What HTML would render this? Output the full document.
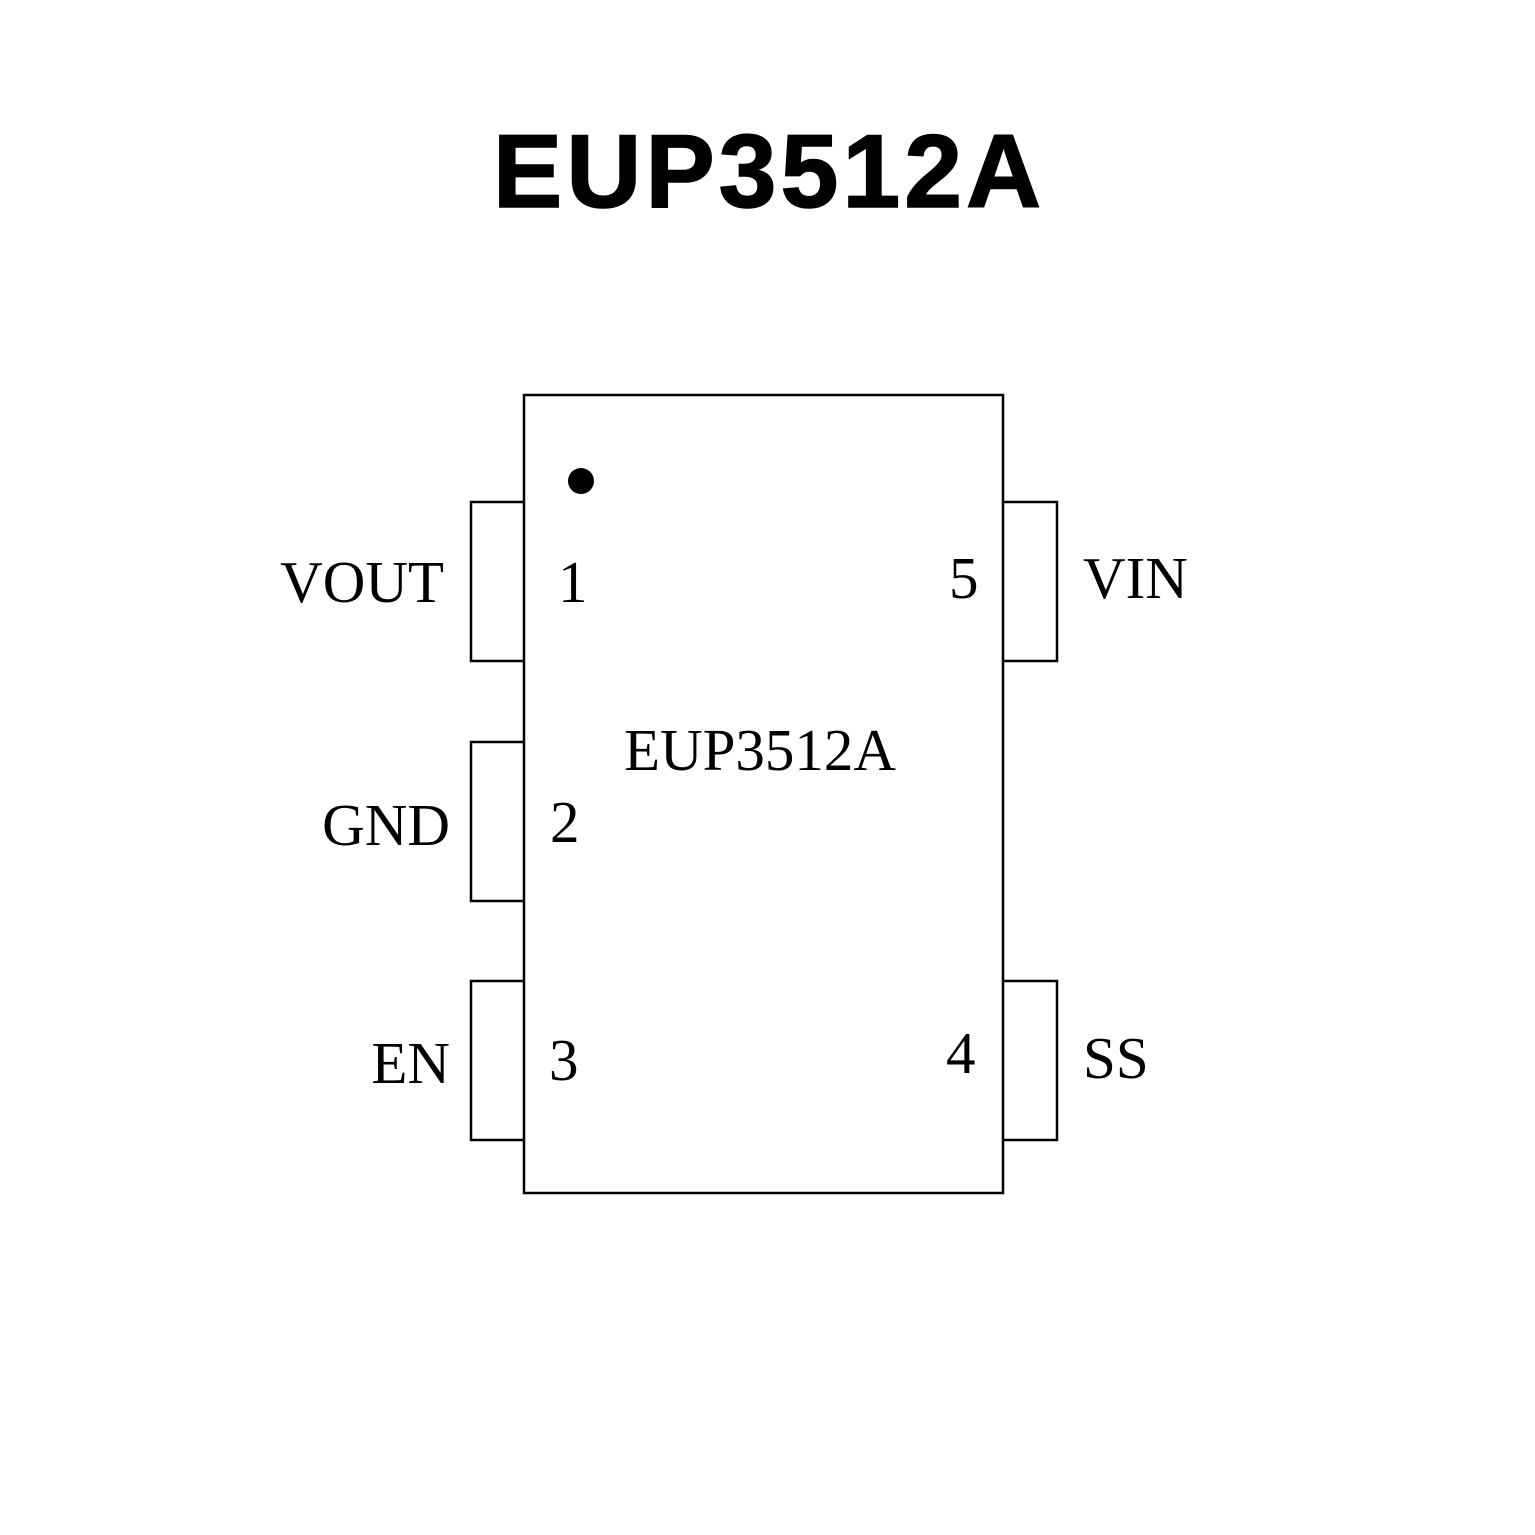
<!DOCTYPE html>
<html><head><style>body{margin:0;background:#fff}svg{display:block}</style></head>
<body>
<svg width="1535" height="1535" viewBox="0 0 1535 1535" xmlns="http://www.w3.org/2000/svg">
<rect width="1535" height="1535" fill="#fff"/>
<text x="769" y="207" text-anchor="middle" font-family="Liberation Sans, sans-serif" font-weight="bold" font-size="104" letter-spacing="4" stroke="#000" stroke-width="1.5">EUP3512A</text>
<g fill="none" stroke="#000" stroke-width="2.5">
<rect x="524" y="395" width="479" height="798"/>
<polyline points="524,502 471,502 471,661 524,661"/>
<polyline points="524,742 471,742 471,901 524,901"/>
<polyline points="524,981 471,981 471,1140 524,1140"/>
<polyline points="1003,502 1057,502 1057,661 1003,661"/>
<polyline points="1003,981 1057,981 1057,1140 1003,1140"/>
</g>
<circle cx="581" cy="481" r="13" fill="#000"/>
<g font-family="Liberation Serif, serif" font-size="59" fill="#000">
<text x="444" y="602" text-anchor="end">VOUT</text>
<text x="558" y="602">1</text>
<text x="949" y="598">5</text>
<text x="1083" y="598">VIN</text>
<text x="760" y="770" text-anchor="middle">EUP3512A</text>
<text x="450" y="845" text-anchor="end">GND</text>
<text x="550" y="842">2</text>
<text x="450" y="1083" text-anchor="end">EN</text>
<text x="549" y="1080">3</text>
<text x="946" y="1073">4</text>
<text x="1083" y="1078">SS</text>
</g>
</svg>
</body></html>
